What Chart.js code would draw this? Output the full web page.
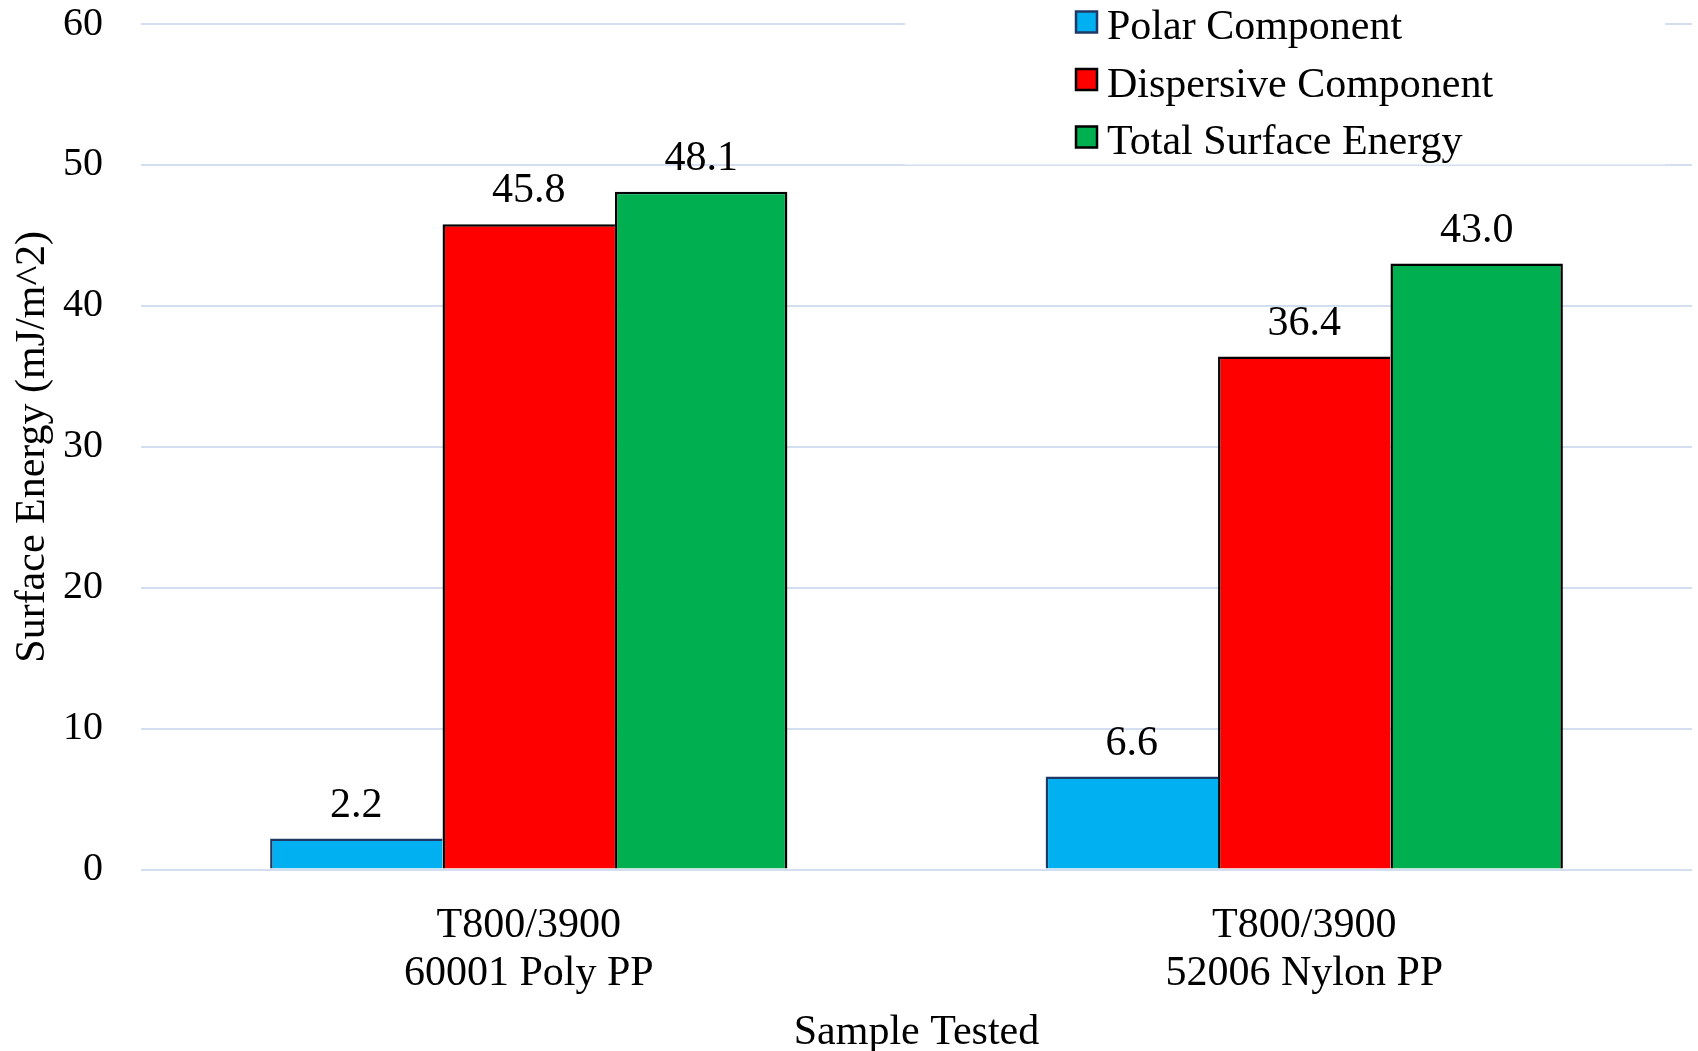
<!DOCTYPE html>
<html>
<head>
<meta charset="utf-8">
<script src="https://cdn.jsdelivr.net/npm/chart.js@4/dist/chart.umd.min.js"></script>
<style>
  html, body { margin: 0; padding: 0; background: #ffffff; }
  #wrap { width: 1698px; height: 1051px; }
</style>
</head>
<body>
<div id="wrap"><canvas id="chart" width="1698" height="1051"></canvas></div>
<script>
// Sample categories (two-line axis labels)
const categories = [
  ['T800/3900', '60001 Poly PP'],
  ['T800/3900', '52006 Nylon PP']
];
// Series names
const seriesNames = ['Polar Component', 'Dispersive Component', 'Total Surface Energy'];
// Surface energy values, mJ/m^2
const polarValues = [2.2, 6.6];
const dispersiveValues = [45.8, 36.4];
const totalValues = [48.1, 43.0];
// Y-axis tick values
const yTickValues = [0, 10, 20, 30, 40, 50, 60];

const SERIF = "'Liberation Serif', 'Times New Roman', serif";

// Value labels above each bar
const barValueLabels = {
  id: 'barValueLabels',
  afterDatasetsDraw(chart) {
    const ctx = chart.ctx;
    ctx.save();
    ctx.font = '42px ' + SERIF;
    ctx.fillStyle = '#000000';
    ctx.textAlign = 'center';
    ctx.textBaseline = 'alphabetic';
    chart.data.datasets.forEach((ds, di) => {
      chart.getDatasetMeta(di).data.forEach((bar, i) => {
        ctx.fillText(Number(ds.data[i]).toFixed(1), bar.x, bar.y - 22);
      });
    });
    ctx.restore();
  }
};

// Vertical legend in the top-right corner with a white backing
const cornerLegend = {
  id: 'cornerLegend',
  afterDraw(chart) {
    const ctx = chart.ctx;
    ctx.save();
    ctx.fillStyle = '#ffffff';
    ctx.fillRect(905, 0, 760, 164.5);
    ctx.font = '42px ' + SERIF;
    ctx.textAlign = 'left';
    ctx.textBaseline = 'alphabetic';
    chart.data.datasets.forEach((ds, i) => {
      const cy = 22 + i * 57.5;
      ctx.fillStyle = ds.backgroundColor;
      ctx.fillRect(1076, cy - 10.5, 21, 21);
      ctx.lineWidth = 2.5;
      ctx.strokeStyle = ds.borderColor;
      ctx.strokeRect(1076, cy - 10.5, 21, 21);
      ctx.fillStyle = '#000000';
      ctx.fillText(ds.label, 1107, cy + 17);
    });
    ctx.restore();
  }
};

// Adjacent bars share one outline: the right edge is drawn only on the last series
const edgeOpen = { top: 2.5, left: 2.5, right: 0, bottom: 0 };
const edgeClosed = { top: 2.5, left: 2.5, right: 2.5, bottom: 0 };

new Chart(document.getElementById('chart'), {
  type: 'bar',
  data: {
    labels: categories,
    datasets: [
      { label: seriesNames[0], data: polarValues, backgroundColor: '#00B0F0', borderColor: '#1F3864', borderWidth: edgeOpen },
      { label: seriesNames[1], data: dispersiveValues, backgroundColor: '#FF0000', borderColor: '#000000', borderWidth: edgeOpen },
      { label: seriesNames[2], data: totalValues, backgroundColor: '#00B050', borderColor: '#000000', borderWidth: edgeClosed }
    ]
  },
  options: {
    responsive: false,
    animation: false,
    devicePixelRatio: 1,
    layout: { padding: { top: 24, right: 6, bottom: 0, left: 0 } },
    datasets: { bar: { categoryPercentage: 0.667, barPercentage: 1.0, borderSkipped: false, inflateAmount: 0 } },
    plugins: {
      legend: { display: false },
      tooltip: { enabled: false }
    },
    scales: {
      x: {
        grid: { display: false, drawTicks: false },
        border: { display: false },
        ticks: {
          color: '#000000',
          padding: 33,
          font: { family: SERIF, size: 42, lineHeight: 1.135 }
        },
        title: {
          display: true,
          text: 'Sample Tested',
          color: '#000000',
          font: { family: SERIF, size: 42, lineHeight: 0.86 },
          padding: { top: 0, bottom: 0 }
        },
        afterFit(scale) { scale.height = 181.4; scale.paddingLeft = 0; scale.paddingRight = 0; }
      },
      y: {
        min: 0,
        max: 60,
        grid: { color: '#D3DEF1', lineWidth: 2, drawTicks: false },
        border: { display: false },
        afterBuildTicks(scale) { scale.ticks = yTickValues.map(v => ({ value: v })); },
        ticks: {
          color: '#000000',
          padding: 38,
          font: { family: SERIF, size: 40 }
        },
        title: {
          display: true,
          text: 'Surface Energy (mJ/m^2)',
          color: '#000000',
          font: { family: SERIF, size: 42, lineHeight: 1.2 },
          padding: { top: 8, bottom: 0 }
        },
        afterFit(scale) { scale.width = 141; scale.paddingTop = 0; scale.paddingBottom = 0; }
      }
    }
  },
  plugins: [barValueLabels, cornerLegend]
});
</script>
</body>
</html>
